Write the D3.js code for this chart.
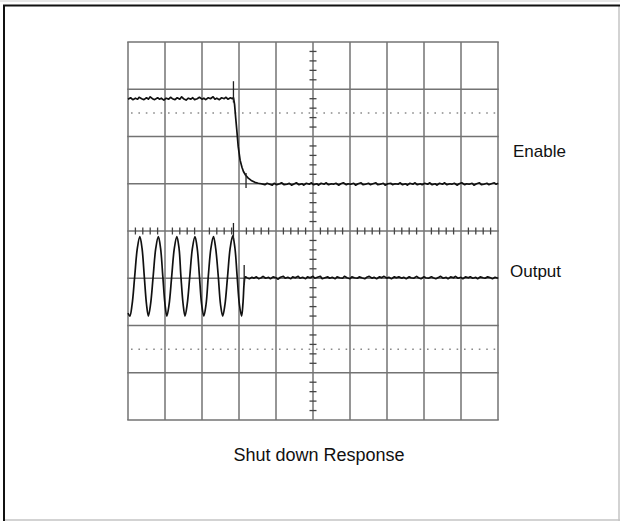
<!DOCTYPE html>
<html>

<head>
    <meta charset="utf-8">
    <script src="https://d3js.org/d3.v7.min.js"></script>
    <style>
        body { margin: 0; background: #fff; }
        text { font-family: "Liberation Sans", Arial, sans-serif; fill: #111; }
    </style>
</head>

<body>
    <script type="text/javascript">
        // time in divisions (0..10), level in divisions (0 = centre line, + is up)
        let enableTrace = [
            [0, 2.79], [0.07, 2.82], [0.13, 2.78], [0.2, 2.81], [0.26, 2.79], [0.3, 2.83], [0.37, 2.80], [0.43, 2.78],
            [0.5, 2.82], [0.55, 2.79], [0.6, 2.84], [0.66, 2.80], [0.72, 2.78], [0.8, 2.82], [0.85, 2.79], [0.9, 2.81],
            [0.97, 2.77], [1.03, 2.81], [1.1, 2.79], [1.15, 2.83], [1.2, 2.80], [1.27, 2.78], [1.33, 2.82], [1.4, 2.79],
            [1.45, 2.84], [1.5, 2.80], [1.57, 2.77], [1.63, 2.81], [1.7, 2.79], [1.75, 2.82], [1.8, 2.78], [1.87, 2.80],
            [1.93, 2.83], [2.0, 2.79], [2.05, 2.81], [2.1, 2.78], [2.17, 2.82], [2.23, 2.80], [2.3, 2.84], [2.35, 2.79],
            [2.4, 2.81], [2.47, 2.78], [2.53, 2.82], [2.6, 2.80], [2.65, 2.83], [2.7, 2.79], [2.77, 2.82], [2.82, 2.80],
            [2.85, 2.82],
            [2.88, 2.68], [2.91, 2.40], [2.94, 2.14], [2.98, 1.78], [3.03, 1.50], [3.08, 1.35], [3.12, 1.26],
            [3.18, 1.18], [3.25, 1.12], [3.33, 1.07], [3.43, 1.03], [3.52, 1.01], [3.6, 1.00],
            [3.7, 0.98], [3.76, 1.01], [3.83, 0.99], [3.9, 0.97], [3.95, 1.01], [4.02, 0.98], [4.1, 1.00], [4.15, 1.02],
            [4.22, 0.98], [4.3, 0.99], [4.36, 1.01], [4.42, 0.97], [4.5, 1.00], [4.55, 1.02], [4.62, 0.98], [4.7, 1.00],
            [4.75, 0.97], [4.82, 1.01], [4.9, 0.99], [4.95, 1.02], [5.02, 0.98], [5.1, 1.00], [5.15, 0.97], [5.22, 1.01],
            [5.3, 0.99], [5.35, 1.02], [5.42, 0.98], [5.5, 1.00], [5.55, 0.99], [5.62, 1.01], [5.7, 0.97], [5.75, 1.00],
            [5.82, 1.02], [5.9, 0.98], [5.95, 1.00], [6.02, 0.99], [6.1, 1.01], [6.15, 0.97], [6.22, 1.00], [6.3, 1.02],
            [6.35, 0.98], [6.42, 0.99], [6.5, 1.01], [6.55, 0.98], [6.62, 1.00], [6.7, 1.02], [6.75, 0.98], [6.82, 0.99],
            [6.9, 1.01], [6.95, 0.97], [7.02, 1.00], [7.1, 1.01], [7.15, 0.98], [7.22, 1.00], [7.3, 0.99], [7.35, 1.02],
            [7.42, 0.98], [7.5, 1.00], [7.55, 0.97], [7.62, 1.01], [7.7, 0.99], [7.75, 1.02], [7.82, 0.98], [7.9, 1.00],
            [7.95, 0.98], [8.02, 1.01], [8.1, 0.99], [8.15, 1.02], [8.22, 0.98], [8.3, 1.00], [8.35, 0.97], [8.42, 1.01],
            [8.5, 0.99], [8.55, 1.02], [8.62, 0.98], [8.7, 1.00], [8.75, 0.99], [8.82, 1.01], [8.9, 0.97], [8.95, 1.00],
            [9.02, 1.02], [9.1, 0.98], [9.15, 1.00], [9.22, 0.99], [9.3, 1.01], [9.35, 0.97], [9.42, 1.00], [9.5, 1.02],
            [9.55, 0.98], [9.62, 0.99], [9.7, 1.01], [9.75, 0.98], [9.82, 1.00], [9.9, 1.02], [9.95, 0.99], [10.0, 1.01]
        ];

        let outputSine = [
            [0, -1.74], [0.05, -1.80], [0.11, -1.56], [0.18, -0.97], [0.25, -0.38], [0.32, -0.12], [0.38, -0.37],
            [0.44, -0.96], [0.50, -1.55], [0.55, -1.80], [0.61, -1.55], [0.68, -0.96], [0.75, -0.37], [0.82, -0.12],
            [0.88, -0.36], [0.94, -0.95], [1.00, -1.55], [1.05, -1.80], [1.11, -1.56], [1.18, -0.97], [1.25, -0.38],
            [1.32, -0.12], [1.38, -0.37], [1.43, -0.96], [1.49, -1.55], [1.54, -1.80], [1.60, -1.55], [1.67, -0.96],
            [1.74, -0.37], [1.81, -0.12], [1.87, -0.36], [1.93, -0.95], [1.99, -1.55], [2.05, -1.80], [2.11, -1.55],
            [2.17, -0.96], [2.24, -0.37], [2.31, -0.12], [2.37, -0.37], [2.44, -0.96], [2.50, -1.55], [2.56, -1.80],
            [2.62, -1.56], [2.69, -0.97], [2.76, -0.37], [2.83, -0.10], [2.89, -0.36], [2.95, -0.96], [3.01, -1.55],
            [3.07, -1.80], [3.11, -1.50], [3.14, -1.10], [3.17, -0.97], [3.22, -0.99]
        ];

        let outputFlat = [
            [3.22, -0.99], [3.28, -1.01], [3.35, -0.98], [3.4, -1.00], [3.47, -0.97], [3.53, -1.01], [3.6, -0.99],
            [3.65, -0.96], [3.72, -1.00], [3.8, -0.98], [3.85, -1.01], [3.92, -0.97], [4.0, -0.99], [4.05, -1.02],
            [4.12, -0.98], [4.2, -0.96], [4.25, -1.00], [4.32, -0.98], [4.4, -1.01], [4.45, -0.97], [4.52, -0.99],
            [4.6, -0.96], [4.65, -1.00], [4.72, -0.98], [4.8, -1.01], [4.85, -0.97], [4.92, -0.99], [5.0, -0.96],
            [5.05, -1.00], [5.12, -0.98], [5.2, -0.96], [5.25, -1.01], [5.32, -0.99], [5.4, -0.97], [5.45, -1.00],
            [5.52, -0.98], [5.6, -1.01], [5.65, -0.97], [5.72, -0.99], [5.8, -1.00], [5.85, -0.96], [5.92, -0.99],
            [6.0, -1.01], [6.05, -0.97], [6.12, -0.99], [6.2, -1.00], [6.25, -0.97], [6.32, -0.99], [6.4, -1.01],
            [6.45, -0.98], [6.52, -0.96], [6.6, -1.00], [6.65, -0.98], [6.72, -1.01], [6.8, -0.97], [6.85, -0.99],
            [6.92, -0.96], [7.0, -1.00], [7.05, -0.98], [7.12, -1.01], [7.2, -0.97], [7.25, -0.99], [7.32, -0.97],
            [7.4, -1.00], [7.45, -0.98], [7.52, -1.01], [7.6, -0.97], [7.65, -0.99], [7.72, -1.00], [7.8, -0.96],
            [7.85, -0.99], [7.92, -1.01], [8.0, -0.97], [8.05, -0.99], [8.12, -1.00], [8.2, -0.97], [8.25, -0.99],
            [8.32, -1.01], [8.4, -0.98], [8.45, -0.96], [8.52, -1.00], [8.6, -0.98], [8.65, -1.01], [8.72, -0.97],
            [8.8, -0.99], [8.85, -0.96], [8.92, -1.00], [9.0, -0.98], [9.05, -1.01], [9.12, -0.97], [9.2, -0.99],
            [9.25, -0.97], [9.32, -1.00], [9.4, -0.98], [9.45, -1.01], [9.52, -0.97], [9.6, -0.99], [9.65, -1.00],
            [9.72, -0.97], [9.8, -0.99], [9.85, -1.01], [9.92, -0.98], [10.0, -1.00]
        ];

        // cursor marks: [time, from, to]
        let cursorMarks = [
            [2.85, 3.17, 2.72], [3.19, 1.23, 0.91],
            [2.85, 0.17, -0.19], [3.14, -0.72, -1.14]
        ];

        let traceLabels = ["Enable", "Output"];
        let traceLabelLevels = [1.57, -0.98];
        let dottedLevels = [2.5, -2.5];
        let title = "Shut down Response";

        let width = 620,
            height = 521;

        let svg = d3.select("body")
            .append("svg")
                .attr("width", width)
                .attr("height", height);

        // page frame
        svg.append("line").attr("x1", 0).attr("x2", 620).attr("y1", 1).attr("y2", 1)
            .attr("stroke", "#cfcfcf").attr("stroke-width", 1);
        svg.append("line").attr("x1", 619).attr("x2", 619).attr("y1", 5).attr("y2", 521)
            .attr("stroke", "#c4c4c4").attr("stroke-width", 1.5);
        svg.append("line").attr("x1", 3).attr("x2", 620).attr("y1", 520).attr("y2", 520)
            .attr("stroke", "#c4c4c4").attr("stroke-width", 1.5);
        svg.append("line").attr("x1", 3).attr("x2", 620).attr("y1", 5.5).attr("y2", 5.5)
            .attr("stroke", "#111").attr("stroke-width", 2);
        svg.append("line").attr("x1", 4).attr("x2", 4).attr("y1", 5).attr("y2", 521)
            .attr("stroke", "#111").attr("stroke-width", 2);

        let x = d3.scaleLinear().domain([0, 10]).range([128, 498]);
        let y = d3.scaleLinear().domain([-4, 4]).range([420, 42]);

        let grid = svg.append("g").attr("class", "grid");
        let gridColor = "#737373";

        grid.selectAll("line.v")
            .data(d3.range(0, 11))
            .join("line")
                .attr("class", "v")
                .attr("x1", d => x(d)).attr("x2", d => x(d))
                .attr("y1", y(4)).attr("y2", y(-4))
                .attr("stroke", gridColor).attr("stroke-width", 1.5);

        grid.selectAll("line.h")
            .data(d3.range(-4, 5))
            .join("line")
                .attr("class", "h")
                .attr("x1", x(0) - 0.75).attr("x2", x(10) + 0.75)
                .attr("y1", d => y(d)).attr("y2", d => y(d))
                .attr("stroke", gridColor).attr("stroke-width", 1.5);

        // dotted reference levels
        grid.selectAll("line.dot")
            .data(dottedLevels)
            .join("line")
                .attr("class", "dot")
                .attr("x1", x(0) + 3).attr("x2", x(10))
                .attr("y1", d => y(d)).attr("y2", d => y(d))
                .attr("stroke", "#8a8a8a").attr("stroke-width", 1.5)
                .attr("stroke-dasharray", "1.6,5.8");

        // minor ticks on the centre axes
        let minorY = d3.range(-4, 4.01, 0.2).filter(d => Math.abs(d - Math.round(d)) > 0.01);
        let minorX = d3.range(0, 10.01, 0.2).filter(d => Math.abs(d - Math.round(d)) > 0.01);

        grid.selectAll("line.ty")
            .data(minorY)
            .join("line")
                .attr("class", "ty")
                .attr("x1", x(5) - 3.5).attr("x2", x(5) + 3.5)
                .attr("y1", d => y(d)).attr("y2", d => y(d))
                .attr("stroke", "#444").attr("stroke-width", 1.3);

        grid.selectAll("line.tx")
            .data(minorX)
            .join("line")
                .attr("class", "tx")
                .attr("x1", d => x(d)).attr("x2", d => x(d))
                .attr("y1", y(0) - 3.5).attr("y2", y(0) + 3.5)
                .attr("stroke", "#444").attr("stroke-width", 1.3);

        // traces
        let jagged = d3.line()
            .x(d => x(d[0]))
            .y(d => y(d[1]));

        let smooth = d3.line()
            .x(d => x(d[0]))
            .y(d => y(d[1]))
            .curve(d3.curveCatmullRom.alpha(0.5));

        let traces = [
            { pts: enableTrace, gen: jagged },
            { pts: outputSine, gen: smooth },
            { pts: outputFlat, gen: jagged }
        ];

        svg.selectAll("path.trace")
            .data(traces)
            .join("path")
                .attr("class", "trace")
                .attr("d", d => d.gen(d.pts))
                .attr("fill", "none")
                .attr("stroke", "#111")
                .attr("stroke-width", 1.7)
                .attr("stroke-linejoin", "round");

        svg.selectAll("line.cursor")
            .data(cursorMarks)
            .join("line")
                .attr("class", "cursor")
                .attr("x1", d => x(d[0])).attr("x2", d => x(d[0]))
                .attr("y1", d => y(d[1])).attr("y2", d => y(d[2]))
                .attr("stroke", "#222").attr("stroke-width", 1.3);

        // labels
        svg.selectAll("text.label")
            .data(traceLabels)
            .join("text")
                .attr("class", "label")
                .attr("x", (d, i) => i == 0 ? 513 : 510)
                .attr("y", (d, i) => y(traceLabelLevels[i]))
                .attr("font-size", 17)
                .text(d => d);

        svg.append("text")
            .attr("x", 319)
            .attr("y", 461)
            .attr("text-anchor", "middle")
            .attr("font-size", 18)
            .text(title);
    </script>
</body>

</html>
